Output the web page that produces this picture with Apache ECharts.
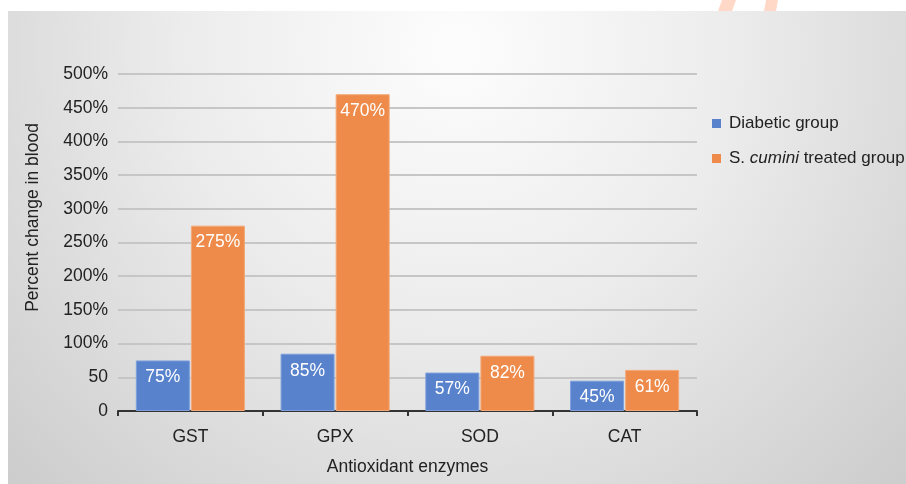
<!DOCTYPE html>
<html>
<head>
<meta charset="utf-8">
<title>Antioxidant enzymes</title>
<script src="https://cdn.jsdelivr.net/npm/echarts@6/dist/echarts.min.js"></script>
<style>
  html, body { margin: 0; padding: 0; background: #fff; }
  #chart { width: 906px; height: 484px; }
</style>
</head>
<body>
<div id="chart"></div>
<script>
// --- data ---
const categories = ['GST', 'GPX', 'SOD', 'CAT'];
const diabetic = [75, 85, 57, 45];
const treated = [275, 470, 82, 61];

const FONT = '"Liberation Sans", Arial, sans-serif';
const FS = 17.5;
const BLUE = '#5882cc';
const ORANGE = '#ee8b4a';

const chart = echarts.init(document.getElementById('chart'));

const barLabel = {
  show: true,
  position: 'insideTop',
  distance: 8,
  color: '#fff',
  fontFamily: FONT,
  fontSize: FS,
  formatter: '{c}%'
};

chart.setOption({
  backgroundColor: '#fff',
  textStyle: { fontFamily: FONT },
  // grey backdrop of the slide, lighter towards the top centre
  graphic: [
    {
      type: 'rect',
      z: -100,
      shape: { x: 8, y: 11, width: 898, height: 473 },
      style: {
        fill: new echarts.graphic.RadialGradient(0.5, 0.08, 1.3, [
          { offset: 0, color: '#fdfdfd' },
          { offset: 0.45, color: '#ececec' },
          { offset: 1, color: '#cdcdcd' }
        ])
      }
    },
    {
      type: 'polygon',
      z: -90,
      shape: { points: [[722, 0], [736, 0], [732, 11], [718, 11]] },
      style: { fill: '#ffd8c8' }
    },
    {
      type: 'polygon',
      z: -90,
      shape: { points: [[766, 0], [778, 0], [776, 11], [764, 11]] },
      style: { fill: '#ffd8c8' }
    }
  ],
  grid: { left: 118, right: 209, top: 74, bottom: 73 },
  legend: {
    orient: 'vertical',
    left: 707,
    top: 110,
    itemWidth: 9,
    itemHeight: 9,
    itemGap: 18,
    icon: 'rect',
    itemStyle: { borderWidth: 0 },
    textStyle: {
      fontFamily: FONT,
      fontSize: 17,
      color: '#222',
      padding: [0, 0, 0, 3],
      rich: {
        i: { fontFamily: FONT, fontSize: 17, fontStyle: 'italic', color: '#222' }
      }
    },
    formatter: function (name) {
      if (name === 'S. cumini treated group') return 'S. {i|cumini} treated group';
      return name;
    }
  },
  xAxis: {
    type: 'category',
    data: categories,
    name: 'Antioxidant enzymes',
    nameLocation: 'middle',
    nameGap: 47,
    nameTextStyle: { fontFamily: FONT, fontSize: FS, color: '#222' },
    axisLine: { lineStyle: { color: '#333', width: 2 } },
    axisTick: { show: true, length: 5, lineStyle: { color: '#333', width: 2 } },
    axisLabel: { margin: 17, fontFamily: FONT, fontSize: FS, color: '#222' }
  },
  yAxis: {
    type: 'value',
    min: 0,
    max: 500,
    interval: 50,
    name: 'Percent change in blood',
    nameLocation: 'middle',
    nameGap: 76,
    nameTextStyle: { fontFamily: FONT, fontSize: FS, color: '#222', padding: [0, 0, 0, 50] },
    axisLine: { show: false },
    axisTick: { show: false },
    axisLabel: {
      margin: 10,
      fontFamily: FONT,
      fontSize: FS,
      color: '#222',
      formatter: function (v) { return v <= 50 ? String(v) : v + '%'; }
    },
    splitLine: { lineStyle: { color: '#c6c6c6', width: 2 } }
  },
  series: [
    {
      name: 'Diabetic group',
      type: 'bar',
      data: diabetic,
      barWidth: 54,
      barGap: '2%',
      itemStyle: { color: BLUE, borderColor: '#7d9fdc', borderWidth: 1 },
      label: barLabel
    },
    {
      name: 'S. cumini treated group',
      type: 'bar',
      data: treated,
      barWidth: 54,
      barGap: '2%',
      itemStyle: { color: ORANGE, borderColor: '#f3a877', borderWidth: 1 },
      label: barLabel
    }
  ]
});
</script>
</body>
</html>
